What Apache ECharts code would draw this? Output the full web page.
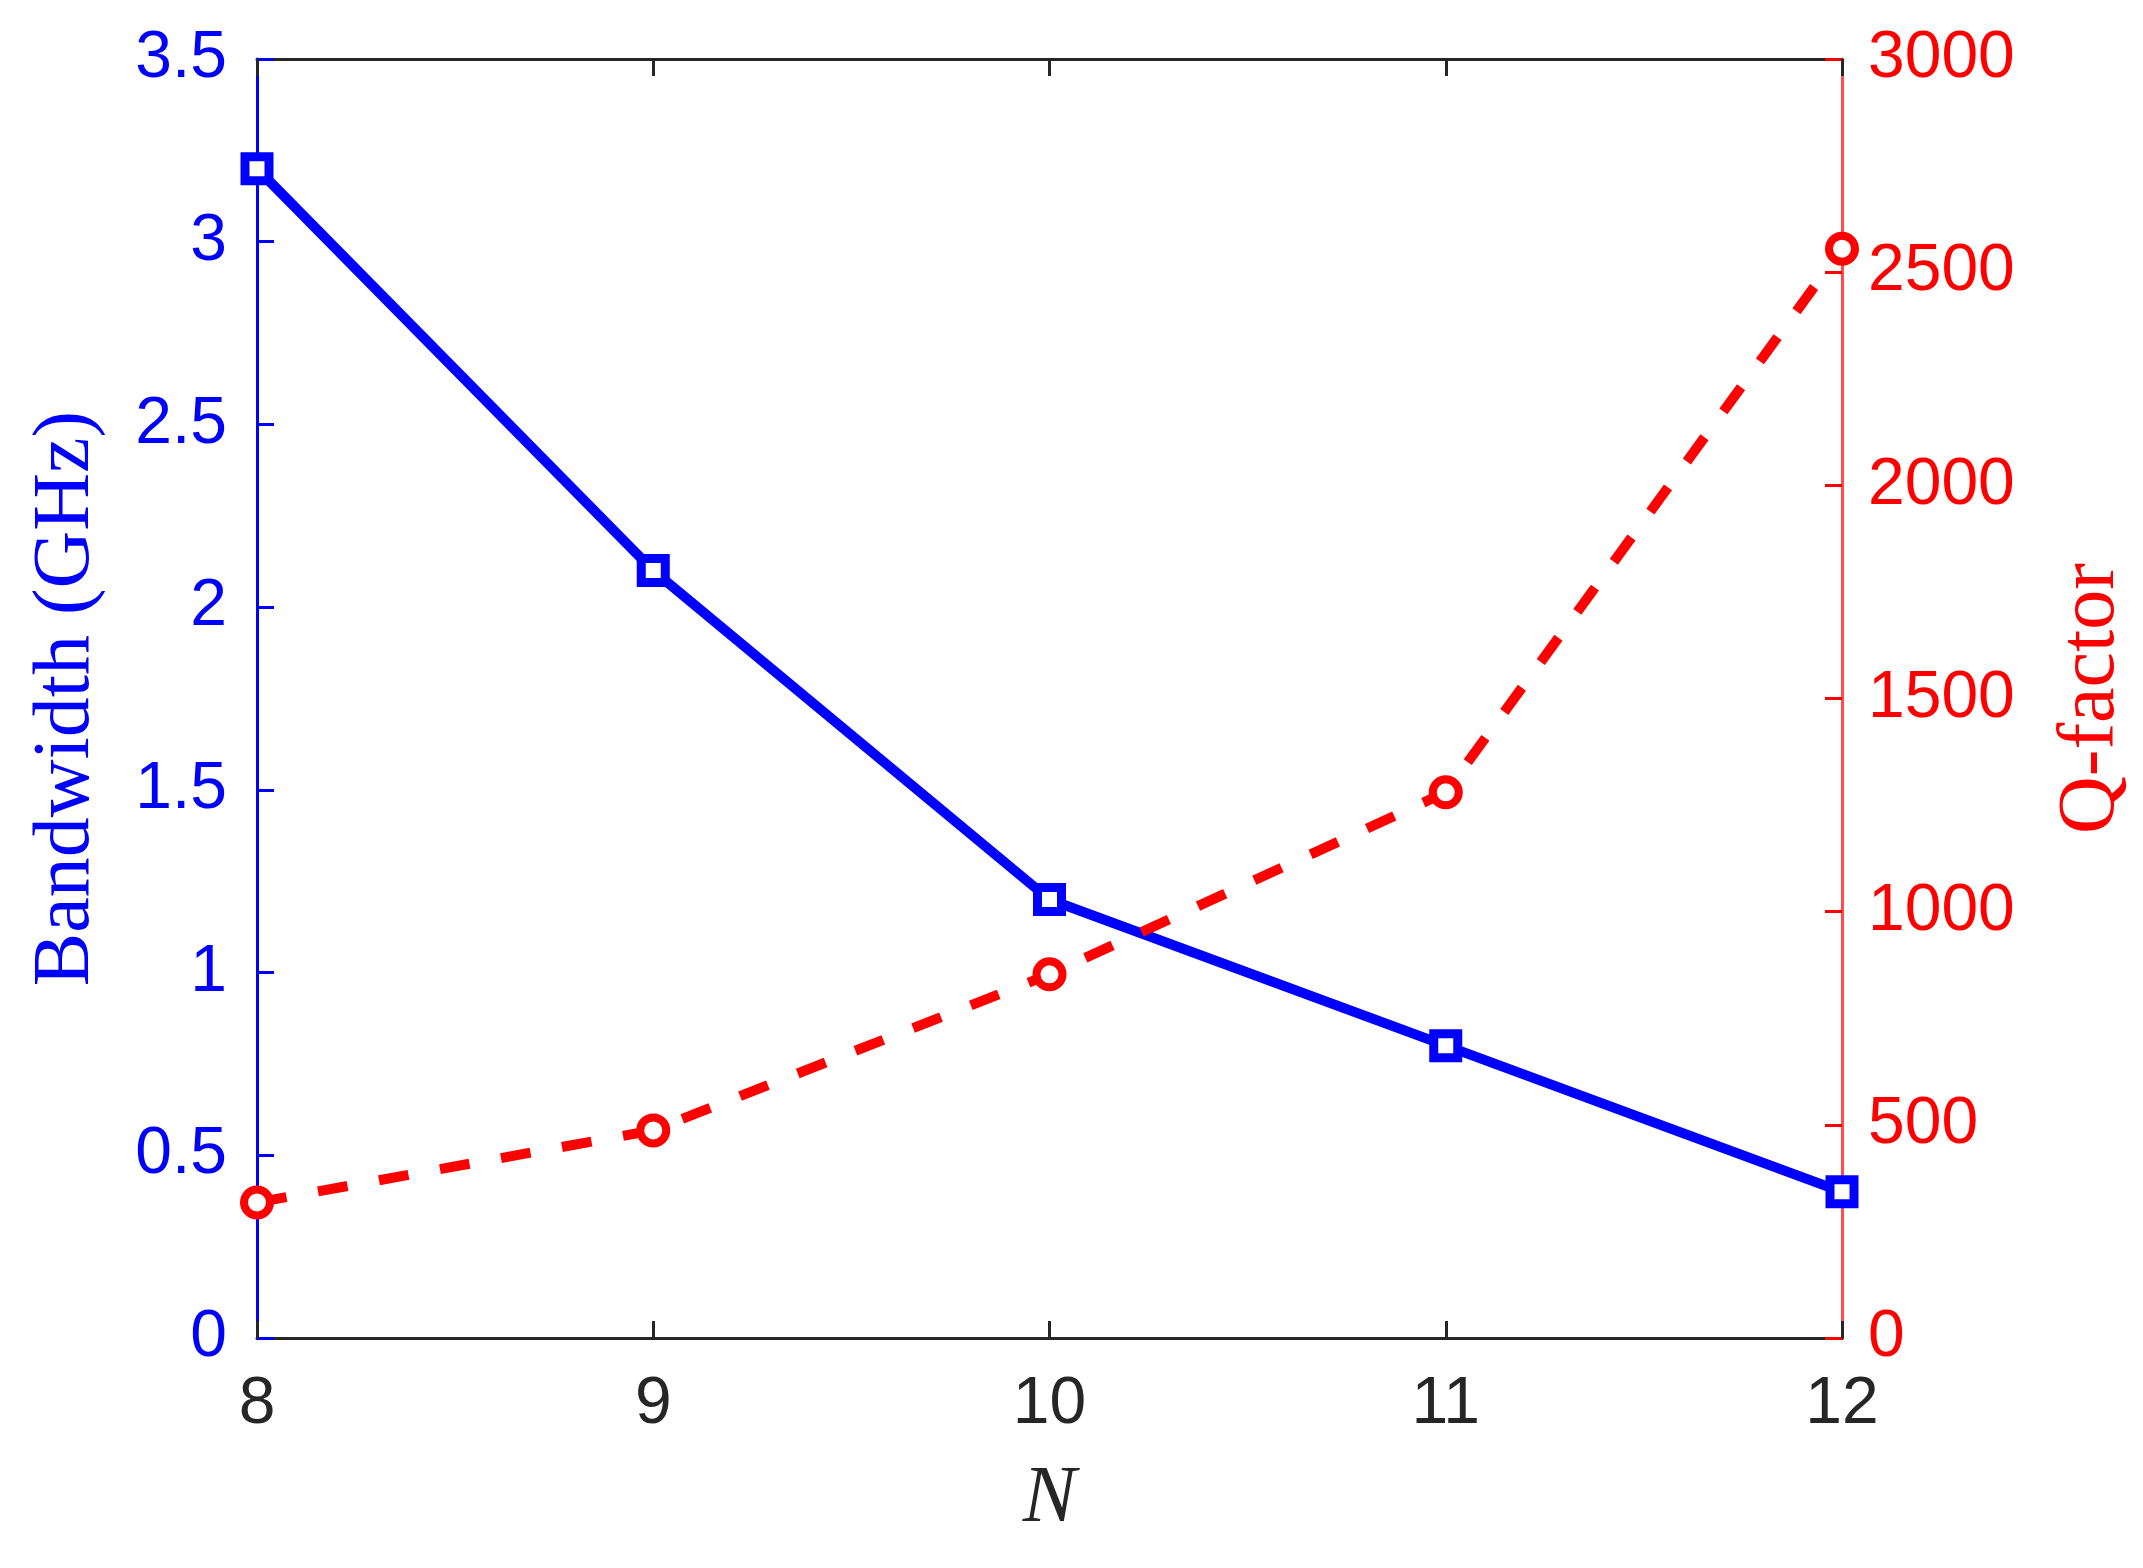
<!DOCTYPE html>
<html>
<head>
<meta charset="utf-8">
<script src="https://cdn.jsdelivr.net/npm/echarts@6/dist/echarts.min.js"></script>
<style>
  html, body { margin: 0; padding: 0; background: #fff; }
  #chart { width: 2143px; height: 1568px; }
</style>
</head>
<body>
<div id="chart"></div>
<script>
(()=>{
    "use strict";
    // values
    let nValues = [8, 9, 10, 11, 12];
    let bandwidth = [3.2, 2.1, 1.2, 0.8, 0.4];
    let qFactor = [318, 487, 853, 1280, 2555];

    let sans = "'Liberation Sans', Arial, sans-serif";
    let serif = "'Liberation Serif', 'DejaVu Serif', serif";
    let dark = '#262626';

    let _chart = echarts.init(document.getElementById('chart'), null, {renderer: 'canvas'});
    let _chartOption = {
    "animation": false,
    "backgroundColor": "#ffffff",
    "grid": {"left": 257, "right": 301, "top": 59, "bottom": 230, "containLabel": false},
    "xAxis": [
        {"type": "value", "min": 8, "max": 12, "interval": 1, "position": "bottom",
         "name": "N", "nameLocation": "middle", "nameGap": 122,
         "nameTextStyle": {"fontFamily": serif, "fontStyle": "italic", "fontSize": 80, "color": dark},
         "axisLine": {"show": true, "onZero": false, "lineStyle": {"color": dark, "width": 3}},
         "axisTick": {"show": true, "inside": true, "length": 17, "lineStyle": {"color": dark, "width": 3}},
         "axisLabel": {"fontFamily": sans, "fontSize": 66, "color": dark, "margin": 34},
         "splitLine": {"show": false}},
        {"type": "value", "min": 8, "max": 12, "interval": 1, "position": "top",
         "axisLine": {"show": true, "onZero": false, "lineStyle": {"color": dark, "width": 3}},
         "axisTick": {"show": true, "inside": true, "length": 17, "lineStyle": {"color": dark, "width": 3}},
         "axisLabel": {"show": false},
         "splitLine": {"show": false}}
    ],
    "yAxis": [
        {"type": "value", "min": 0, "max": 3.5, "interval": 0.5, "position": "left",
         "name": "Bandwidth (GHz)", "nameLocation": "middle", "nameGap": 150,
         "nameTextStyle": {"fontFamily": serif, "fontSize": 80, "color": "#0000ff"},
         "axisLine": {"show": true, "onZero": false, "lineStyle": {"color": "#0000ff", "width": 3}},
         "axisTick": {"show": true, "inside": true, "length": 17, "lineStyle": {"color": "#0000ff", "width": 3}},
         "axisLabel": {"fontFamily": sans, "fontSize": 66, "color": "#0000ff", "margin": 30},
         "splitLine": {"show": false}},
        {"type": "value", "min": 0, "max": 3000, "interval": 500, "position": "right",
         "name": "Q-factor", "nameLocation": "middle", "nameGap": 210, "nameRotate": 90,
         "nameTextStyle": {"fontFamily": serif, "fontSize": 80, "color": "#ff0000"},
         "axisLine": {"show": true, "onZero": false, "lineStyle": {"color": "#ff4d4d", "width": 3}},
         "axisTick": {"show": true, "inside": true, "length": 17, "lineStyle": {"color": "#ff0000", "width": 3}},
         "axisLabel": {"fontFamily": sans, "fontSize": 66, "color": "#ff0000", "margin": 26,
                       "formatter": (v) => String(v)},
         "splitLine": {"show": false}}
    ],
    "series": [
        {"type": "line", "name": "Bandwidth", "xAxisIndex": 0, "yAxisIndex": 0, "z": 3,
         "data": nValues.map((n, i) => [n, bandwidth[i]]),
         "lineStyle": {"color": "#0000ff", "width": 10},
         "symbol": "rect", "symbolSize": 24, "showSymbol": true,
         "itemStyle": {"color": "#ffffff", "borderColor": "#0000ff", "borderWidth": 9}},
        {"type": "line", "name": "Q-factor", "xAxisIndex": 0, "yAxisIndex": 1, "z": 4,
         "data": nValues.map((n, i) => [n, qFactor[i]]),
         "lineStyle": {"color": "#ff0000", "width": 10, "type": [30, 32]},
         "symbol": "circle", "symbolSize": 26, "showSymbol": true,
         "itemStyle": {"color": "#ffffff", "borderColor": "#ff0000", "borderWidth": 8}}
    ]};
    _chart.setOption(_chartOption);
})();
</script>
</body>
</html>
